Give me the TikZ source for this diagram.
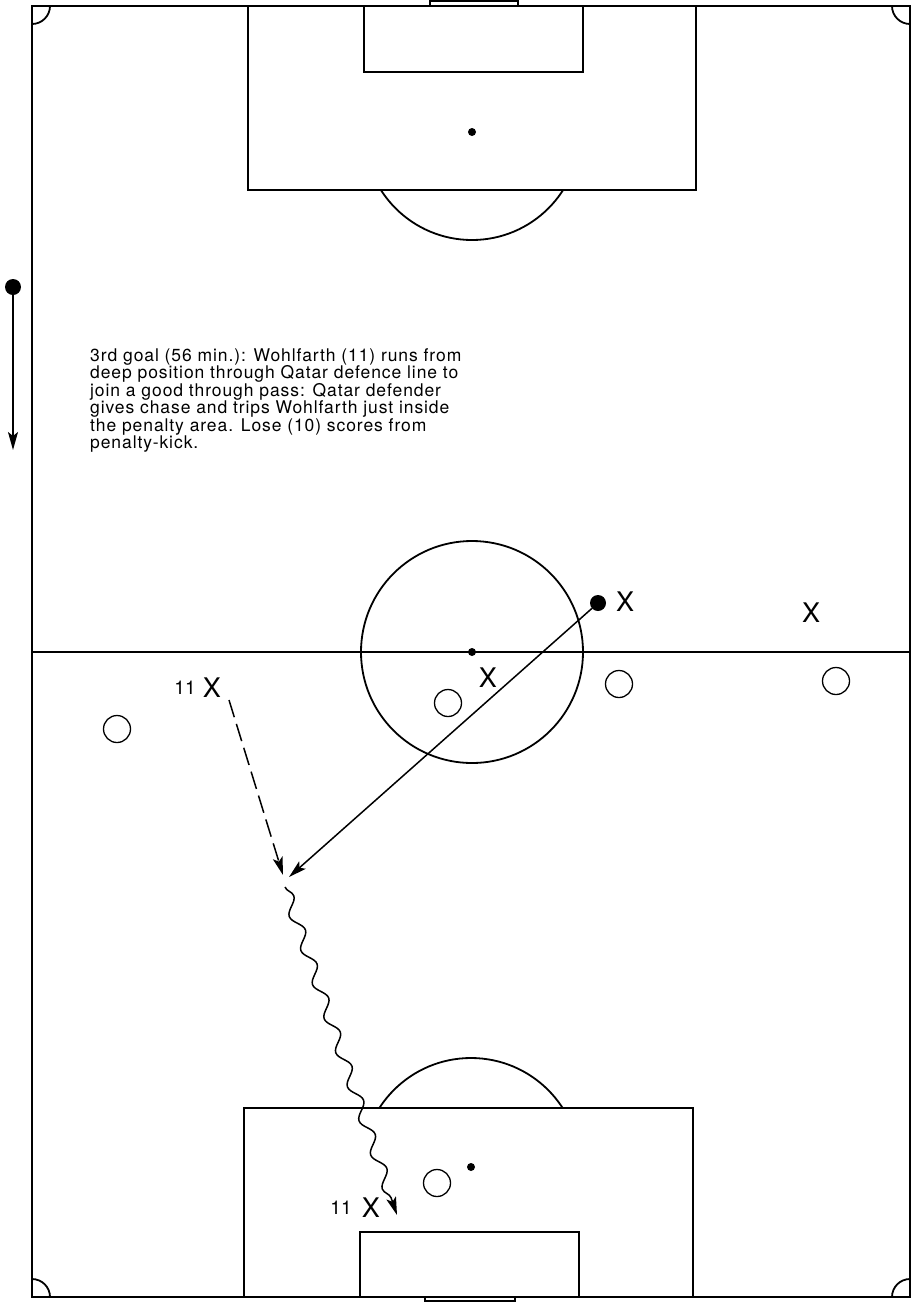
\documentclass[tikz,border=0pt]{standalone}
\usepackage{fontspec}
\setmainfont{TeX Gyre Heros}
\newfontfamily\capfont[LetterSpace=5.25]{TeX Gyre Heros}
\newcommand\captionsetup{\capfont\fontsize{17.5}{17.5}\selectfont\lineskiplimit=-10pt\relax}
\usetikzlibrary{arrows.meta,decorations.pathmorphing}
\begin{document}
\begin{tikzpicture}[x=1pt,y=-1pt,
  fieldline/.style={line width=1.8pt},
  xplayer/.style={inner sep=0pt, font=\fontsize{27}{27}\selectfont},
  oplayer/.style={circle, draw, line width=1.3pt, minimum size=27pt, inner sep=0pt},
  shirtnum/.style={inner sep=0pt, font=\fontsize{19}{19}\selectfont},
  spotdot/.style={circle, fill, inner sep=0pt, minimum size=8pt},
  ballnode/.style={circle, fill, inner sep=0pt, minimum size=16pt},
  tipline/.style={-{Stealth[length=18pt,width=10pt,inset=4pt]}, line width=1.5pt},
  captionstyle/.style={anchor=north west, inner sep=0pt, align=left, font=\captionsetup},
]
\useasboundingbox (0,0) rectangle (914,1302);
% field
\draw[fieldline] (32,6) rectangle (910,1297);
\draw[fieldline] (32,652) -- (910,652);
\begin{scope}
  \clip (32,6) rectangle (910,1297);
  \foreach \cx/\cy in {32/6,910/6,32/1297,910/1297}
    \draw[fieldline] (\cx,\cy) circle[radius=18pt];
\end{scope}
% top end
\draw[fieldline] (430,1) rectangle (518,6);
\draw[fieldline] (248,6) rectangle (696,190);
\draw[fieldline] (364,6) rectangle (583,72);
\node[spotdot] (topspot) at (472,132) {};
\begin{scope}
  \clip (0,190) rectangle (914,320);
  \draw[fieldline] (472,132) circle[radius=108pt];
\end{scope}
% centre
\draw[fieldline] (472,652) circle[radius=111pt];
\node[spotdot] (centrespot) at (472,652) {};
% bottom end
\draw[fieldline] (425,1297) rectangle (515,1301);
\draw[fieldline] (244,1108) rectangle (693,1297);
\draw[fieldline] (360,1232) rectangle (579,1297);
\node[spotdot] (botspot) at (471,1167) {};
\begin{scope}
  \clip (0,1108) rectangle (914,1000);
  \draw[fieldline] (471,1167) circle[radius=109pt];
\end{scope}
% direction of play
\node[ballnode] (leftdot) at (13,287) {};
\coordinate (leftend) at (13,450);
\draw[tipline] (leftdot) -- (leftend);
% caption
\node[captionstyle] (caption) at (90,348)
{3rd goal (56 min.): Wohlfarth (11) runs from\\
deep position through Qatar defence line to\\
join a good through pass: Qatar defender\\
gives chase and trips Wohlfarth just inside\\
the penalty area. Lose (10) scores from\\
penalty-kick.};
% players
\node[ballnode] (ball) at (598,603) {};
\node[xplayer] (xa) at (625,602) {X};
\node[xplayer] (xb) at (811,613) {X};
\node[xplayer] (xc) at (488,678) {X};
\node[shirtnum] (numa) at (185,688) {11};
\node[xplayer] (xeleven) at (212,688) {X};
\node[shirtnum] (numb) at (341,1208) {11};
\node[xplayer] (xelevenb) at (371,1208) {X};
\node[oplayer] (oa) at (448,703) {};
\node[oplayer] (ob) at (619,684) {};
\node[oplayer] (oc) at (836,681) {};
\node[oplayer] (od) at (117,729) {};
\node[oplayer] (oe) at (437,1183) {};
% movements
\coordinate (runstart) at (229,700);
\coordinate (runend) at (283,875);
\coordinate (passend) at (289,877);
\coordinate (dribstart) at (285,887);
\coordinate (dribend) at (397,1215);
\draw[tipline, dash pattern=on 18pt off 7pt] (runstart) -- (runend);
\draw[tipline] (ball) -- (passend);
\draw[tipline, decorate, decoration={snake, amplitude=5.5pt, segment length=36pt, post length=18pt}] (dribstart) -- (dribend);
\end{tikzpicture}
\end{document}
